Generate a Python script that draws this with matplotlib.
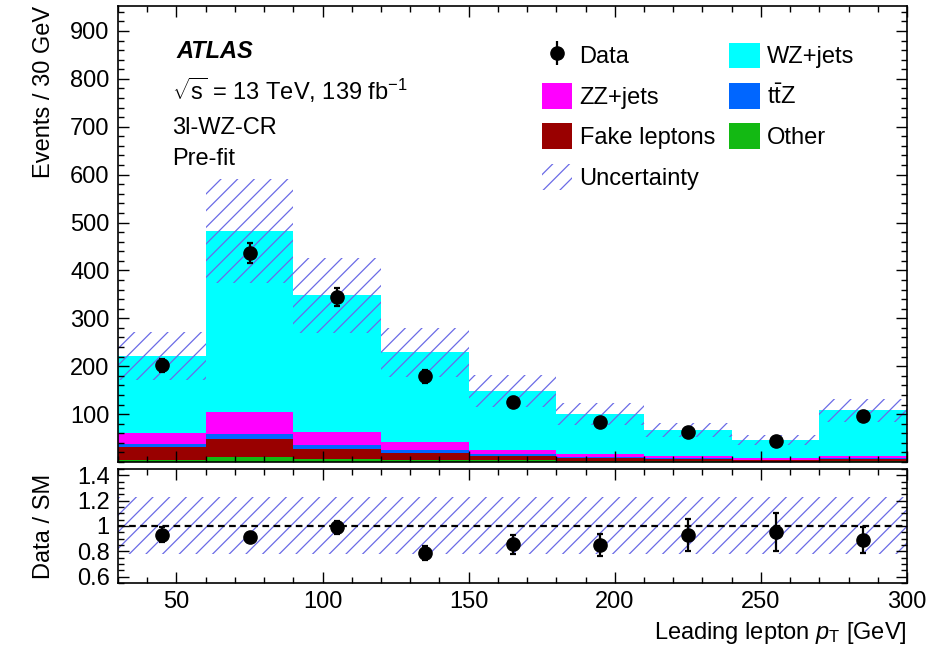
import numpy as np
import matplotlib
matplotlib.use("Agg")
import matplotlib.pyplot as plt
from matplotlib.patches import Patch

plt.rcParams['font.family'] = ['Liberation Sans', 'DejaVu Sans']
plt.rcParams['mathtext.fontset'] = 'custom'
plt.rcParams['mathtext.rm'] = 'Liberation Sans'
plt.rcParams['mathtext.it'] = 'Liberation Sans:italic'
plt.rcParams['mathtext.bf'] = 'Liberation Sans:bold'
plt.rcParams['hatch.linewidth'] = 0.9

# binning (GeV)
edges = np.array([30, 60, 90, 120, 150, 180, 210, 240, 270, 300])
centers = 0.5 * (edges[:-1] + edges[1:])

# stacked backgrounds, bottom to top
other = [5, 10, 6, 5, 4, 3, 2, 1, 2]
fake = [27, 38, 21, 14, 8, 6, 4, 3, 4]
ttz = [5, 10, 9, 7, 4, 2, 2, 1, 2]
zz = [23, 47, 26, 16, 9, 6, 4, 3, 5]
wz = [161, 378, 286, 187, 123, 83, 55, 38, 95]

# relative uncertainty of the prediction
unc = [0.225, 0.225, 0.225, 0.225, 0.225, 0.225, 0.225, 0.225, 0.225]

# data
data = [202, 437, 344, 179, 125, 83, 62, 44, 96]
data_err = [14, 21, 19, 13, 11, 9, 8, 7, 10]

# ratio panel
ratio = [0.93, 0.91, 0.99, 0.79, 0.855, 0.85, 0.93, 0.95, 0.89]
ratio_err = [0.06, 0.035, 0.05, 0.055, 0.075, 0.09, 0.125, 0.15, 0.1]

ttz_label = r"t$\bar{\mathrm{t}}$Z"
samples = [
    ("Other", other, "#13b913"),
    ("Fake leptons", fake, "#990000"),
    (ttz_label, ttz, "#0066ff"),
    ("ZZ+jets", zz, "#ff00ff"),
    ("WZ+jets", wz, "#00ffff"),
]
hatch_col = "#6b6be6"
fs = 17

fig = plt.figure(figsize=(9.51, 6.49), dpi=100)
ax = fig.add_axes([0.1241, 0.2881, 0.8297, 0.7026])
rax = fig.add_axes([0.1241, 0.1017, 0.8297, 0.1757])

# stack
bottom = np.zeros(len(centers))
handles = {}
for name, vals, col in samples:
    vals = np.array(vals, dtype=float)
    ax.stairs(bottom + vals, edges, baseline=bottom, fill=True,
              color=col, linewidth=0)
    handles[name] = Patch(facecolor=col, edgecolor='none', label=name)
    bottom = bottom + vals
total = bottom

u = np.array(unc)
ax.stairs(total * (1 + u), edges, baseline=total * (1 - u), fill=True,
          hatch='//', facecolor='none', edgecolor=hatch_col, linewidth=0)

ax.errorbar(centers, data, yerr=data_err, fmt='o', color='black',
            markersize=9.5, elinewidth=1.6, capsize=2, capthick=1.6,
            zorder=5)

ax.set_xlim(30, 300)
ax.set_ylim(0, 952)
ax.set_yticks(np.arange(100, 1000, 100))
ax.set_yticks(np.arange(0, 960, 20), minor=True)
ax.set_xticks(np.arange(50, 301, 50))
ax.set_xticks(np.arange(30, 301, 10), minor=True)
ax.tick_params(labelbottom=False)
ax.set_ylabel("Events / 30 GeV", loc='top', fontsize=fs)
ax.yaxis.set_label_coords(-0.08, 1.0)

data_handle = ax.errorbar([], [], yerr=[], fmt='o', color='black',
                          markersize=9.5, elinewidth=1.6)
unc_handle = Patch(facecolor='none', edgecolor=hatch_col, hatch='//',
                   linewidth=0, label='Uncertainty')
leg_handles = [data_handle, handles["ZZ+jets"], handles["Fake leptons"],
               unc_handle, handles["WZ+jets"], handles[ttz_label],
               handles["Other"]]
leg_labels = ["Data", "ZZ+jets", "Fake leptons", "Uncertainty",
              "WZ+jets", ttz_label, "Other"]
ax.legend(leg_handles, leg_labels, ncol=2, loc='upper left',
          bbox_to_anchor=(0.537, 0.92), frameon=False, fontsize=fs,
          borderpad=0, borderaxespad=0, handlelength=1.3,
          handleheight=1.3, handletextpad=0.3, labelspacing=0.62,
          columnspacing=0.6)

ax.text(0.074, 0.901, "ATLAS", transform=ax.transAxes, fontsize=fs,
        fontweight='bold', fontstyle='italic', va='center')
ax.text(0.068, 0.816, r"$\sqrt{\mathrm{s}}$ = 13 TeV, 139 fb$^{-1}$",
        transform=ax.transAxes, fontsize=fs, va='center')
ax.text(0.068, 0.732, "3l-WZ-CR", transform=ax.transAxes, fontsize=fs,
        va='center')
ax.text(0.068, 0.665, "Pre-fit", transform=ax.transAxes, fontsize=fs,
        va='center')

# ratio panel
ones = np.ones(len(centers))
rax.stairs(ones + u, edges, baseline=ones - u, fill=True, hatch='//',
           facecolor='none', edgecolor=hatch_col, linewidth=0)
rax.axhline(1.0, color='black', linestyle=(0, (3, 2)), linewidth=1.6)
rax.errorbar(centers, ratio, yerr=ratio_err, fmt='o', color='black',
             markersize=9.5, elinewidth=1.6, capsize=2, capthick=1.6,
             zorder=5)
rax.set_xlim(30, 300)
rax.set_ylim(0.55, 1.45)
rax.set_yticks([0.6, 0.8, 1.0, 1.2, 1.4])
rax.set_yticklabels(["0.6", "0.8", "1", "1.2", "1.4"])
rax.set_yticks(np.arange(0.55, 1.451, 0.05), minor=True)
rax.set_xticks(np.arange(50, 301, 50))
rax.set_xticks(np.arange(30, 301, 10), minor=True)
rax.set_ylabel("Data / SM", fontsize=fs)
rax.yaxis.set_label_coords(-0.08, 0.5)
rax.set_xlabel(r"Leading lepton $p_{\mathrm{T}}$ [GeV]", loc='right',
               fontsize=fs, labelpad=5)

for a in (ax, rax):
    a.tick_params(which='both', direction='in', top=True, right=True,
                  labelsize=fs, width=1.0)
    a.tick_params(which='major', length=8, pad=6)
    a.tick_params(which='minor', length=4)
    for s in a.spines.values():
        s.set_linewidth(1.2)

fig.savefig("out.png", dpi=100)
